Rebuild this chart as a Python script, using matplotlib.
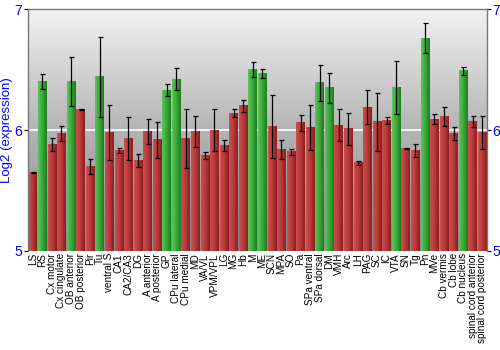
import numpy as np
import matplotlib
matplotlib.use("Agg")
import matplotlib.pyplot as plt
from matplotlib.colors import LinearSegmentedColormap

plt.rcParams["font.family"] = ["Liberation Sans", "DejaVu Sans"]

REGIONS = ["LS", "RS", "Cx motor", "Cx cingulate", "OB anterior", "OB posterior",
           "Pir", "Tu", "ventral S", "CA1", "CA2/CA3", "DG", "A anterior",
           "A posterior", "GP", "CPu lateral", "CPu medial", "MD", "VA/VL",
           "VPM/VPL", "LG", "MG", "Hb", "M", "ME", "SCN", "MPA", "SO", "Pa",
           "SPa ventral", "SPa dorsal", "DM", "VMH", "Arc", "LH", "PAG", "SC",
           "IC", "VTA", "SN", "Tg", "Pn", "MVe", "Cb vermis", "Cb lobe",
           "Cb nucleus", "spinal cord anterior", "spinal cord posterior"]
EXPR = [5.65, 6.40, 5.88, 5.97, 6.40, 6.17, 5.70, 6.44, 5.98, 5.83, 5.93, 5.75,
        5.99, 5.92, 6.33, 6.42, 5.93, 5.99, 5.79, 6.00, 5.87, 6.14, 6.20, 6.50,
        6.47, 6.03, 5.84, 5.82, 6.06, 6.02, 6.39, 6.35, 6.04, 6.01, 5.73, 6.19,
        6.07, 6.08, 6.35, 5.85, 5.83, 6.76, 6.09, 6.11, 5.97, 6.49, 6.07, 5.98]
ERR = [0.005, 0.06, 0.05, 0.06, 0.20, 0.005, 0.06, 0.33, 0.23, 0.02, 0.18, 0.055,
       0.105, 0.15, 0.05, 0.09, 0.24, 0.13, 0.027, 0.17, 0.045, 0.03, 0.05, 0.065,
       0.036, 0.26, 0.08, 0.027, 0.065, 0.185, 0.15, 0.125, 0.13, 0.13, 0.017, 0.14,
       0.24, 0.03, 0.22, 0.003, 0.057, 0.125, 0.04, 0.08, 0.053, 0.033, 0.048, 0.133]
HIGH = {"RS", "OB anterior", "Tu", "GP", "CPu lateral", "M", "ME", "SPa dorsal",
        "DM", "VTA", "Pn", "Cb nucleus"}

RED = LinearSegmentedColormap.from_list("r", ["#cc5050", "#b83a3a", "#8a1e1e"])
GREEN = LinearSegmentedColormap.from_list("g", ["#5cc45c", "#3aa83a", "#1c7c1c"])
BG = LinearSegmentedColormap.from_list("bg", ["#8a8a8a", "#b4b4b4", "#f2f2f2"])

fig = plt.figure(figsize=(5, 3.5), dpi=100)
ax = fig.add_axes([0.056, 0.283, 0.918, 0.691])

x = np.arange(len(REGIONS))
ymin, ymax = 5, 7
xlo, xhi = -0.5, len(REGIONS) - 0.5
ax.set_xlim(xlo, xhi)
ax.set_ylim(ymin, ymax)

# background vertical gradient
ax.imshow(np.linspace(0, 1, 256).reshape(-1, 1), cmap=BG, origin="lower",
          extent=[xlo, xhi, ymin, ymax], aspect="auto", zorder=0)
ax.axhline(6, color="white", lw=1.2, zorder=1)

w = 0.9
grad = np.linspace(0, 1, 64).reshape(1, -1)
for xi, name, v in zip(x, REGIONS, EXPR):
    cmap = GREEN if name in HIGH else RED
    ax.imshow(grad, cmap=cmap, origin="lower", aspect="auto",
              extent=[xi - w / 2, xi + w / 2, ymin, v], zorder=2)
ax.errorbar(x, EXPR, yerr=ERR, fmt="none", ecolor="black", elinewidth=0.9,
            capsize=1.8, capthick=0.9, zorder=3)
ax.set_xlim(xlo, xhi)
ax.set_ylim(ymin, ymax)

ax.set_xticks(x)
ax.set_xticklabels(REGIONS, rotation=90, fontsize=7.2)
ax.tick_params(axis="x", length=0, pad=1.5)
ax.set_yticks([5, 6, 7])
ax.tick_params(axis="y", colors="black", labelcolor="blue", labelsize=10,
               length=3, width=0.8, left=True, right=True,
               labelleft=True, labelright=True, pad=1)
ax.set_ylabel("Log2 (expression)", color="blue", fontsize=9.5, labelpad=1)
for side in ["left", "right", "top"]:
    ax.spines[side].set_color("#777777")
    ax.spines[side].set_linewidth(1)
ax.spines["bottom"].set_visible(False)

fig.savefig("out.png", dpi=100)
